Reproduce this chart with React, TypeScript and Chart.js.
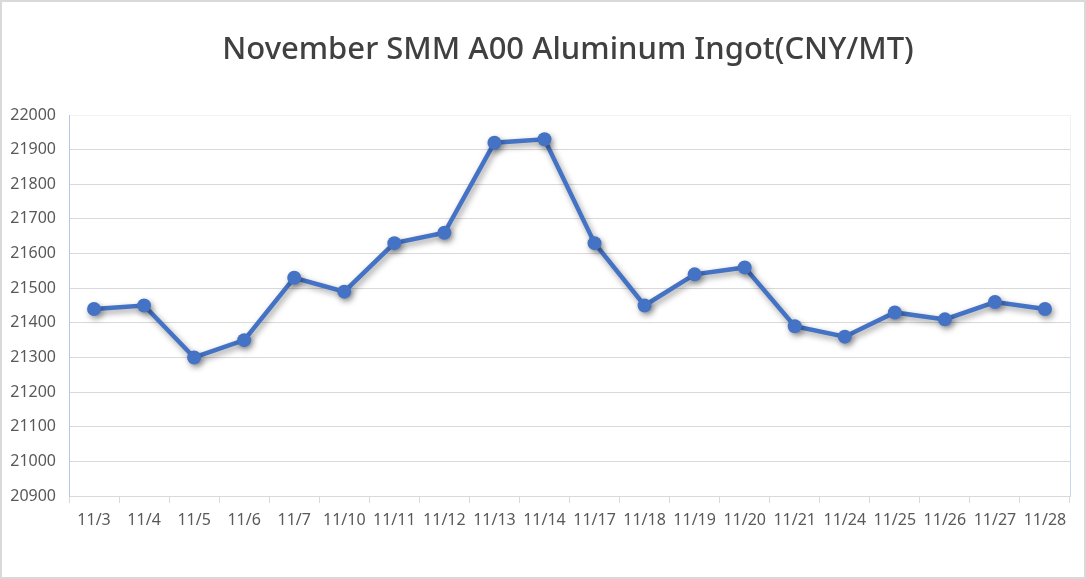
import React, { useEffect, useRef } from "react";
import { Chart, registerables } from "chart.js";

Chart.register(...registerables);

const TITLE = "November SMM A00 Aluminum Ingot(CNY/MT)";
const categories = [
  "11/3", "11/4", "11/5", "11/6", "11/7", "11/10", "11/11", "11/12", "11/13", "11/14",
  "11/17", "11/18", "11/19", "11/20", "11/21", "11/24", "11/25", "11/26", "11/27", "11/28",
];
const prices = [
  21440, 21450, 21300, 21350, 21530, 21490, 21630, 21660, 21920, 21930,
  21630, 21450, 21540, 21560, 21390, 21360, 21430, 21410, 21460, 21440,
];
const yMin = 20900;
const yMax = 22000;
const yStep = 100;

const FONT = "'Noto Sans', 'Open Sans', sans-serif";

const shadowPlugin = {
  id: "lineShadow",
  beforeDatasetsDraw(chart: any) {
    const ctx = chart.ctx;
    ctx.save();
    ctx.shadowColor = "rgba(0,0,0,0.4)";
    ctx.shadowBlur = 6;
    ctx.shadowOffsetX = 2;
    ctx.shadowOffsetY = 3;
  },
  afterDatasetsDraw(chart: any) {
    chart.ctx.restore();
  },
};

const decorPlugin = {
  id: "decor",
  afterDraw(chart: any) {
    const { ctx, chartArea } = chart;
    ctx.save();
    const g = ctx.createLinearGradient(0, chartArea.top, 0, chartArea.bottom);
    g.addColorStop(0, "#f2f2f2");
    g.addColorStop(1, "#c9d6ec");
    ctx.strokeStyle = g;
    ctx.lineWidth = 1;
    ctx.beginPath();
    ctx.moveTo(chartArea.right + 0.5, chartArea.top);
    ctx.lineTo(chartArea.right + 0.5, chartArea.bottom);
    ctx.stroke();
    ctx.fillStyle = "#404040";
    ctx.font = `500 31px ${FONT}`;
    ctx.textAlign = "center";
    ctx.textBaseline = "middle";
    ctx.fillText(TITLE, 568, 50);
    ctx.restore();
  },
};

export default function App() {
  const ref = useRef<HTMLCanvasElement>(null);

  useEffect(() => {
    if (!ref.current) return;
    const chart = new Chart(ref.current, {
      type: "line",
      data: {
        labels: categories,
        datasets: [
          {
            data: prices,
            borderColor: "#4472c4",
            backgroundColor: "#4472c4",
            borderWidth: 4.5,
            pointRadius: 7,
            pointHoverRadius: 7,
            pointBackgroundColor: "#4472c4",
            pointBorderColor: "#4472c4",
            pointBorderWidth: 0,
            tension: 0,
          },
        ],
      },
      options: {
        animation: false,
        responsive: false,
        devicePixelRatio: 1,
        layout: { padding: { left: 0, right: 16, top: 115, bottom: 0 } },
        plugins: {
          legend: { display: false },
          tooltip: { enabled: false },
          title: { display: false },
        },
        scales: {
          x: {
            type: "category",
            offset: true,
            grid: {
              offset: true,
              drawOnChartArea: false,
              drawTicks: true,
              tickLength: 7,
              color: "#d9d9d9",
            },
            border: { display: true, color: "#d9d9d9", width: 1 },
            ticks: {
              color: "#595959",
              font: { family: FONT, size: 16 },
              padding: 8,
              maxRotation: 0,
              autoSkip: false,
            },
            afterFit(scale: any) {
              scale.height = 83;
            },
          },
          y: {
            min: yMin,
            max: yMax,
            grid: {
              drawTicks: false,
              color: (c: any) => (c.tick && c.tick.value === yMax ? "#f2f2f2" : "#d9d9d9"),
            },
            border: { display: true, color: "#b4c7e7", width: 1 },
            ticks: {
              stepSize: yStep,
              color: "#595959",
              font: { family: FONT, size: 16 },
              padding: 13,
              callback: (v: any) => String(v),
            },
            afterFit(scale: any) {
              scale.width = 69;
            },
          },
        },
      },
      plugins: [shadowPlugin, decorPlugin],
    });
    return () => chart.destroy();
  }, []);

  return (
    <div
      style={{
        position: "absolute",
        left: 0,
        top: 0,
        width: 1086,
        height: 579,
        background: "#fff",
        overflow: "hidden",
      }}
    >
      <canvas
        ref={ref}
        width={1086}
        height={579}
        style={{ position: "absolute", left: 0, top: 0, width: 1086, height: 579 }}
      />
      <div
        style={{
          position: "absolute",
          left: 0,
          top: 0,
          width: 1086,
          height: 579,
          boxSizing: "border-box",
          border: "2px solid #d9d9d9",
          pointerEvents: "none",
        }}
      />
    </div>
  );
}
